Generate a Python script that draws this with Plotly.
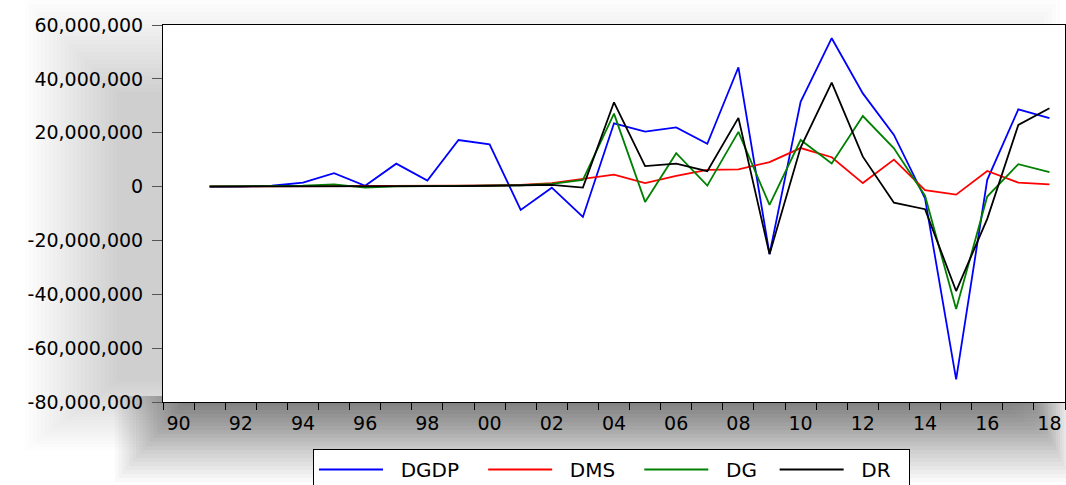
import plotly.graph_objects as go

years = list(range(1991, 2019))

dgdp = [0, 0, 300_000, 1_450_000, 4_950_000, 300_000, 8_500_000, 2_200_000, 17_300_000,
        15_700_000, -8_700_000, -400_000, -11_300_000, 23_500_000, 20_400_000, 22_000_000,
        15_900_000, 44_300_000, -25_100_000, 31_500_000, 55_100_000, 34_600_000,
        19_200_000, -4_400_000, -71_600_000, 2_500_000, 28_700_000, 25_400_000]

dms = [50_000, 50_000, 100_000, 150_000, 200_000, 300_000, 250_000, 300_000, 300_000,
       400_000, 600_000, 1_300_000, 2_800_000, 4_400_000, 1_300_000, 4_000_000,
       6_200_000, 6_400_000, 9_100_000, 14_300_000, 10_900_000, 1_300_000,
       10_000_000, -1_300_000, -3_000_000, 5_800_000, 1_450_000, 850_000]

dg = [50_000, 50_000, 100_000, 300_000, 850_000, -400_000, 100_000, 200_000, 100_000,
      400_000, 500_000, 1_000_000, 2_500_000, 27_100_000, -5_700_000, 12_400_000,
      350_000, 20_300_000, -6_800_000, 17_300_000, 8_600_000, 26_200_000,
      14_200_000, -3_400_000, -45_500_000, -3_700_000, 8_300_000, 5_400_000]

dr = [0, 0, 50_000, 100_000, 200_000, 100_000, 200_000, 200_000, 200_000,
      300_000, 400_000, 600_000, -400_000, 31_300_000, 7_600_000, 8_500_000,
      5_700_000, 25_500_000, -25_100_000, 14_500_000, 38_600_000, 11_100_000,
      -6_000_000, -8_400_000, -38_800_000, -12_000_000, 22_900_000, 29_100_000]

series_names = ["DGDP", "DMS", "DG", "DR"]
series_colors = ["#0000ff", "#ff0000", "#008000", "#000000"]

y_tickvals = [60_000_000, 40_000_000, 20_000_000, 0, -20_000_000, -40_000_000,
              -60_000_000, -80_000_000]
y_ticktext = ["60,000,000", "40,000,000", "20,000,000", "0", "-20,000,000",
              "-40,000,000", "-60,000,000", "-80,000,000"]

x_label_years = list(range(1990, 2019, 2))
x_ticktext = ["90", "92", "94", "96", "98", "00", "02", "04", "06", "08",
              "10", "12", "14", "16", "18"]
x_boundaries = [y - 0.5 for y in range(1990, 2020)]

# ---- geometry (pixels) ----
W, H = 1066, 485
L, R, T, B = 163, 1065, 25, 402


def px(x):
    return (x - L) / (R - L)


def py(y):
    return (B - y) / (B - T)


NB = "\u00a0"
lead_pad = [NB * 2, NB * 2, NB * 2, NB * 2]
trail_pad = [NB * 3, NB * 3, NB * 2, NB * 2]

fig = go.Figure()
for name, vals, col, lp, tp in zip(series_names, [dgdp, dms, dg, dr],
                                   series_colors, lead_pad, trail_pad):
    fig.add_trace(go.Scatter(x=years, y=vals, mode="lines", name=lp + name + tp,
                             line=dict(color=col, width=1.8)))

shapes = []
# soft overall shadow (left/top)
n = 24
for k in range(n):
    shapes.append(dict(type="rect", xref="paper", yref="paper", layer="below",
                       x0=px(25 + 4 * k), x1=px(1060 - 4 * k),
                       y0=py(450 - 3 * k), y1=py(0 + 4 * k),
                       fillcolor="rgba(0,0,0,0.0075)", line=dict(width=0)))
# darker shadow under the bottom axis
m = 20
for k in range(m):
    shapes.append(dict(type="rect", xref="paper", yref="paper", layer="below",
                       x0=px(115 + 3.5 * k), x1=px(1072 - 2 * k),
                       y0=py(482 - 4 * k), y1=py(396),
                       fillcolor="rgba(0,0,0,0.025)", line=dict(width=0)))
# white plot area
shapes.append(dict(type="rect", xref="paper", yref="paper", layer="below",
                   x0=0, x1=1, y0=0, y1=1, fillcolor="white",
                   line=dict(width=0)))

font_family = "DejaVu Sans"

fig.update_layout(
    width=W, height=H,
    margin=dict(l=L, r=W - R, t=T, b=H - B, pad=0, autoexpand=False),
    paper_bgcolor="white",
    plot_bgcolor="rgba(0,0,0,0)",
    shapes=shapes,
    showlegend=True,
    legend=dict(orientation="h", xref="container", yref="container",
                x=313 / W, xanchor="left", y=1 - 449 / H,
                yanchor="top", bgcolor="white", bordercolor="black",
                borderwidth=1, font=dict(family=font_family, size=20,
                                         color="black"),
                itemwidth=64, tracegroupgap=0),
    xaxis=dict(range=[1989.5, 2018.5], tickmode="array", automargin=False,
               tickvals=x_label_years, ticktext=x_ticktext, ticks="",
               ticklabelstandoff=4,
               showgrid=False, zeroline=False, showline=True,
               linecolor="black", linewidth=1, mirror=True,
               tickfont=dict(family=font_family, size=19, color="black"),
               minor=dict(tickmode="array", tickvals=x_boundaries,
                          ticks="outside", ticklen=7, tickcolor="black",
                          tickwidth=1, showgrid=False)),
    yaxis=dict(range=[-80_000_000, 60_000_000], tickmode="array",
               automargin=False, ticklabelstandoff=5,
               tickvals=y_tickvals, ticktext=y_ticktext, ticks="outside",
               ticklen=10, tickcolor="#555555", showgrid=False,
               zeroline=False, showline=True, linecolor="black",
               linewidth=1, mirror=True,
               tickfont=dict(family=font_family, size=19, color="black")),
)

fig.write_html("out.html", config={"displayModeBar": False},
               post_script="document.body.style.margin='0';"
                           "document.body.style.overflow='hidden';")
